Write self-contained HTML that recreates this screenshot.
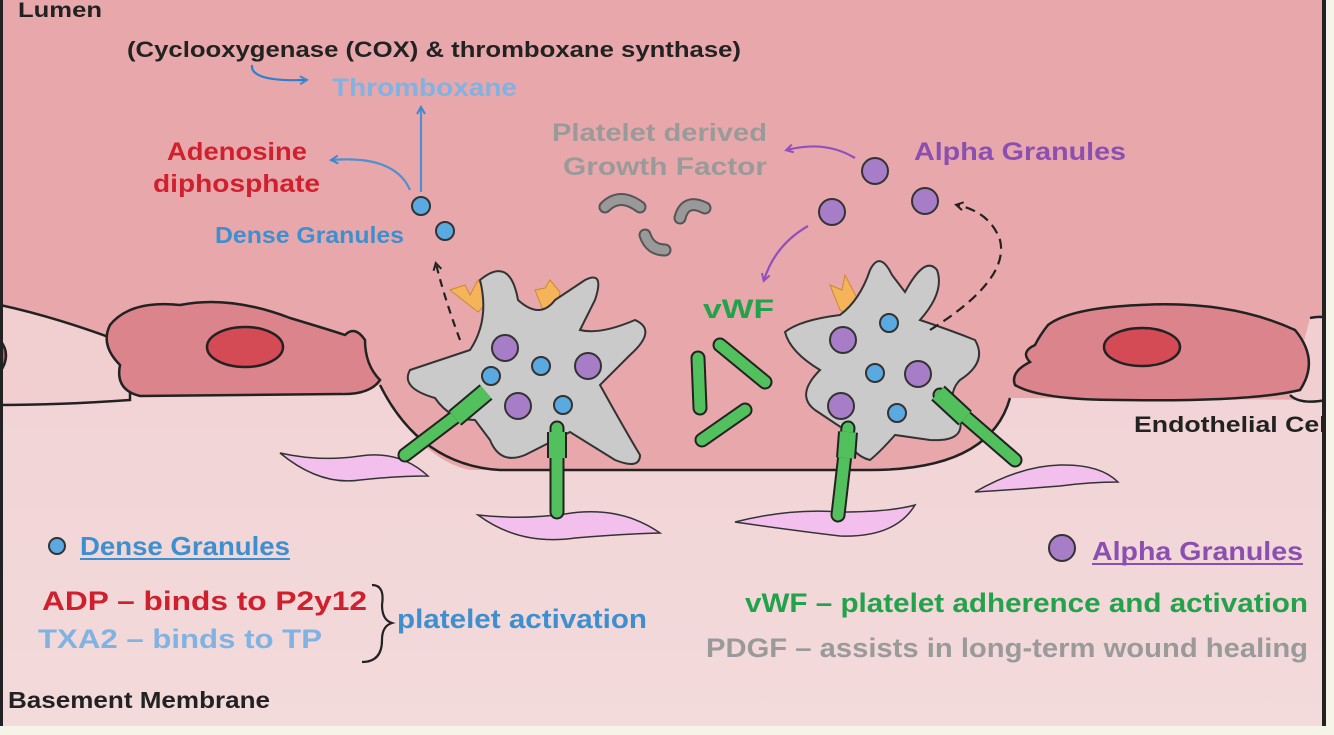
<!DOCTYPE html>
<html><head><meta charset="utf-8"><style>
html,body{margin:0;padding:0;background:#f6f3e8;}
svg{display:block}
text{font-family:"Liberation Sans",sans-serif;}
</style></head><body>
<svg width="1334" height="735" viewBox="0 0 1334 735" xmlns="http://www.w3.org/2000/svg">
<defs>
<linearGradient id="bm" x1="0" y1="0" x2="0" y2="1">
<stop offset="0" stop-color="#f0cdcf"/><stop offset="1" stop-color="#f3dadb"/></linearGradient>
<marker id="ab" markerWidth="10" markerHeight="10" refX="7" refY="5" orient="auto" markerUnits="userSpaceOnUse"><path d="M1,1 L8,5 L1,9" fill="none" stroke="#3d86d0" stroke-width="2"/></marker>
<marker id="ap" markerWidth="10" markerHeight="10" refX="7" refY="5" orient="auto" markerUnits="userSpaceOnUse"><path d="M1,1 L8,5 L1,9" fill="none" stroke="#9050c0" stroke-width="2"/></marker>
<marker id="ak" markerWidth="10" markerHeight="10" refX="7" refY="5" orient="auto" markerUnits="userSpaceOnUse"><path d="M1,1 L8,5 L1,9" fill="none" stroke="#222" stroke-width="2"/></marker>
</defs>
<rect x="0" y="0" width="1326" height="726" fill="url(#bm)"/>
<path d="M0,0 H1326 V400 L1010,398 Q990,470 880,470 L470,470 Q420,460 380,385 L0,400 Z" fill="#e8a8ab"/>
<path d="M380,385 Q420,465 500,470 L870,470 Q990,470 1010,398" fill="none" stroke="#222" stroke-width="2.5"/>
<path d="M0,305 Q60,318 130,345 L130,400 Q60,405 0,405 Z" fill="#f1cfd0" stroke="#222" stroke-width="2.5"/>
<path d="M0,340 Q12,355 0,372" fill="#d5525c" stroke="#222" stroke-width="2.5"/>
<path d="M110,325 Q130,300 180,305 Q230,295 290,318 Q330,330 345,335 Q355,325 365,340 Q365,365 380,380 Q370,395 340,394 L140,396 Q115,390 120,365 Q100,345 110,325 Z" fill="#dc848b" stroke="#222" stroke-width="2.5"/>
<ellipse cx="245" cy="347" rx="38" ry="20" fill="#d44a55" stroke="#222" stroke-width="2.5"/>
<path d="M1310,318 Q1326,315 1326,320 L1326,400 Q1300,405 1290,395" fill="#f1cfd0" stroke="#222" stroke-width="2.5"/>
<path d="M1048,325 Q1070,308 1140,305 Q1230,300 1295,330 Q1320,360 1300,390 Q1250,402 1120,400 Q1040,400 1015,385 Q1010,372 1030,362 Q1020,352 1035,345 Q1040,335 1048,325 Z" fill="#dc848b" stroke="#222" stroke-width="2.5"/>
<ellipse cx="1142" cy="347" rx="38" ry="19" fill="#d44a55" stroke="#222" stroke-width="2.5"/>
<g fill="#f3c0ee" stroke="#333" stroke-width="1.5">
<path d="M280,453 Q320,462 360,456 Q400,450 428,476 Q395,476 360,480 Q320,486 280,453 Z"/>
<path d="M478,515 Q520,520 565,514 Q620,505 660,533 Q620,534 575,538 Q520,546 478,515 Z"/>
<path d="M735,522 Q790,508 840,512 Q890,512 915,505 Q895,538 840,536 Q790,530 735,522 Z"/>
<path d="M975,492 Q1020,466 1060,465 Q1100,464 1118,482 Q1090,482 1060,486 Q1010,490 975,492 Z"/>
</g>
<g fill="#f5b45a" stroke="#c98a30" stroke-width="1">
<path d="M450,290 L465,285 L470,295 L478,280 L490,300 L478,312 Z"/>
<path d="M535,290 L545,288 L550,280 L560,292 L555,320 L545,315 Z"/>
<path d="M830,285 L842,290 L845,275 L858,300 L850,315 L840,310 Z"/>
</g>
<g fill="#cacaca" stroke="#333" stroke-width="2">
<path d="M480,280 Q510,255 518,300 Q540,320 555,300 L585,280 Q605,270 595,300 L580,330 Q600,335 635,320 Q658,330 630,355 L600,385 Q625,430 640,455 Q640,470 615,460 L570,432 Q545,445 525,455 Q500,465 490,440 L475,420 Q450,420 435,398 Q400,388 410,370 Q440,360 470,350 Q490,320 480,280 Z"/>
<path d="M870,270 Q880,250 892,275 L905,292 Q925,255 937,270 Q945,292 920,320 Q950,330 975,340 Q988,362 960,380 Q945,395 960,420 Q965,442 930,440 L895,435 Q880,452 870,460 Q850,455 845,430 Q830,420 815,410 Q795,395 820,370 Q790,352 785,332 Q800,320 840,315 Q860,300 870,270 Z"/>
</g>
<g stroke-linecap="round">
<g stroke="#222" stroke-width="15"><line x1="480" y1="398" x2="405" y2="455"/><line x1="557" y1="428" x2="557" y2="512"/><line x1="848" y1="428" x2="838" y2="515"/><line x1="940" y1="395" x2="1015" y2="460"/>
<line x1="698" y1="358" x2="700" y2="408"/><line x1="720" y1="345" x2="765" y2="382"/><line x1="702" y1="440" x2="745" y2="410"/></g>
<g stroke="#52c05c" stroke-width="11"><line x1="480" y1="398" x2="405" y2="455"/><line x1="557" y1="428" x2="557" y2="512"/><line x1="848" y1="428" x2="838" y2="515"/><line x1="940" y1="395" x2="1015" y2="460"/>
<line x1="698" y1="358" x2="700" y2="408"/><line x1="720" y1="345" x2="765" y2="382"/><line x1="702" y1="440" x2="745" y2="410"/></g>
<g stroke="#222" stroke-width="20" stroke-linecap="butt"><line x1="486" y1="392" x2="455" y2="418"/><line x1="557" y1="432" x2="557" y2="458"/><line x1="848" y1="432" x2="846" y2="458"/><line x1="938" y1="393" x2="965" y2="418"/></g>
<g stroke="#52c05c" stroke-width="16" stroke-linecap="butt"><line x1="486" y1="392" x2="455" y2="418"/><line x1="557" y1="432" x2="557" y2="458"/><line x1="848" y1="432" x2="846" y2="458"/><line x1="938" y1="393" x2="965" y2="418"/></g>
</g>
<g stroke="#333" stroke-width="2">
<g fill="#a77dc7"><circle cx="505" cy="348" r="13"/><circle cx="588" cy="366" r="13"/><circle cx="518" cy="406" r="13"/><circle cx="843" cy="340" r="13"/><circle cx="918" cy="374" r="13"/><circle cx="841" cy="406" r="13"/><circle cx="875" cy="171" r="13"/><circle cx="832" cy="212" r="13"/><circle cx="925" cy="201" r="13"/></g>
<g fill="#5aa9e0"><circle cx="491" cy="376" r="9"/><circle cx="541" cy="366" r="9"/><circle cx="563" cy="405" r="9"/><circle cx="889" cy="323" r="9"/><circle cx="875" cy="373" r="9"/><circle cx="897" cy="413" r="9"/><circle cx="421" cy="206" r="9"/><circle cx="445" cy="231" r="9"/></g>
</g>
<g fill="none" stroke="#555" stroke-width="13" stroke-linecap="round"><path d="M605,207 Q620,192 640,207"/><path d="M680,218 Q685,198 705,208"/><path d="M645,235 Q650,250 665,250"/></g>
<g fill="none" stroke="#999" stroke-width="9" stroke-linecap="round"><path d="M605,207 Q620,192 640,207"/><path d="M680,218 Q685,198 705,208"/><path d="M645,235 Q650,250 665,250"/></g>
<g fill="none" stroke-width="2.2">
<path d="M252,65 Q250,82 306,80" stroke="#2d7fd0" marker-end="url(#ab)"/>
<path d="M421,192 L421,108" stroke="#5090d0" marker-end="url(#ab)"/>
<path d="M410,190 Q395,155 332,160" stroke="#5090d0" marker-end="url(#ab)"/>
<path d="M855,158 Q825,140 787,150" stroke="#9050c0" marker-end="url(#ap)"/>
<path d="M808,226 Q775,245 764,280" stroke="#9050c0" marker-end="url(#ap)"/>
<path d="M460,340 Q445,300 436,264" stroke="#222" stroke-dasharray="8,6" marker-end="url(#ak)"/>
<path d="M930,330 Q1010,280 1000,240 Q990,212 957,205" stroke="#222" stroke-dasharray="10,6" marker-end="url(#ak)"/>
<path d="M372,585 Q385,585 382,605 Q382,620 392,623 Q382,626 382,640 Q382,662 362,662" stroke="#222"/>
</g>
<g font-weight="bold">
<text x="18" y="17" font-size="21" fill="#222" textLength="84" lengthAdjust="spacingAndGlyphs">Lumen</text>
<text x="127" y="57" font-size="22" fill="#222" textLength="614" lengthAdjust="spacingAndGlyphs">(Cyclooxygenase (COX) &amp; thromboxane synthase)</text>
<text x="332" y="96" font-size="25" fill="#80b2e2" textLength="185" lengthAdjust="spacingAndGlyphs">Thromboxane</text>
<text x="167" y="160" font-size="25" fill="#d0202e" textLength="140" lengthAdjust="spacingAndGlyphs">Adenosine</text>
<text x="153" y="192" font-size="25" fill="#d0202e" textLength="167" lengthAdjust="spacingAndGlyphs">diphosphate</text>
<text x="215" y="243" font-size="23" fill="#3d8fd0" textLength="189" lengthAdjust="spacingAndGlyphs">Dense Granules</text>
<text x="552" y="141" font-size="25" fill="#9a9a9a" textLength="215" lengthAdjust="spacingAndGlyphs">Platelet derived</text>
<text x="563" y="175" font-size="25" fill="#9a9a9a" textLength="204" lengthAdjust="spacingAndGlyphs">Growth Factor</text>
<text x="914" y="160" font-size="25" fill="#8a4fb0" textLength="212" lengthAdjust="spacingAndGlyphs">Alpha Granules</text>
<text x="703" y="318" font-size="27" fill="#22a24a" textLength="71" lengthAdjust="spacingAndGlyphs">vWF</text>
<text x="1134" y="432" font-size="22" fill="#222" textLength="200" lengthAdjust="spacingAndGlyphs">Endothelial Cell</text>
<text x="80" y="555" font-size="26" fill="#3d8fd0" textLength="210" lengthAdjust="spacingAndGlyphs">Dense Granules</text>
<text x="42" y="610" font-size="27" fill="#d0202e" textLength="325" lengthAdjust="spacingAndGlyphs">ADP – binds to P2y12</text>
<text x="38" y="648" font-size="27" fill="#80b2e2" textLength="284" lengthAdjust="spacingAndGlyphs">TXA2 – binds to TP</text>
<text x="397" y="628" font-size="27" fill="#3d8fd0" textLength="250" lengthAdjust="spacingAndGlyphs">platelet activation</text>
<text x="1092" y="560" font-size="26" fill="#8a4fb0" textLength="211" lengthAdjust="spacingAndGlyphs">Alpha Granules</text>
<text x="745" y="612" font-size="27" fill="#22a24a" textLength="563" lengthAdjust="spacingAndGlyphs">vWF – platelet adherence and activation</text>
<text x="706" y="657" font-size="27" fill="#9a9a9a" textLength="602" lengthAdjust="spacingAndGlyphs">PDGF – assists in long-term wound healing</text>
<text x="8" y="708" font-size="23" fill="#222" textLength="262" lengthAdjust="spacingAndGlyphs">Basement Membrane</text>
</g>
<circle cx="57" cy="546" r="8" fill="#5aa9e0" stroke="#333" stroke-width="2"/>
<line x1="80" y1="559" x2="290" y2="559" stroke="#3d8fd0" stroke-width="2"/>
<circle cx="1062" cy="548" r="13" fill="#a77dc7" stroke="#333" stroke-width="2"/>
<line x1="1092" y1="564" x2="1303" y2="564" stroke="#8a4fb0" stroke-width="2"/>
<rect x="0" y="0" width="3" height="726" fill="#222"/>
<rect x="1322" y="0" width="4" height="726" fill="#222"/>
<rect x="0" y="726" width="1334" height="9" fill="#f6f3e8"/>
<rect x="1326" y="0" width="8" height="735" fill="#f6f3e8"/>
</svg>
</body></html>
